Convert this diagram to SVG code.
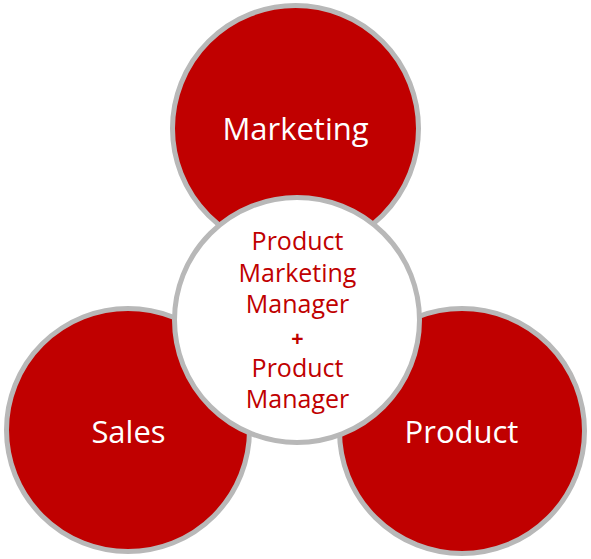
<svg xmlns="http://www.w3.org/2000/svg" width="591" height="559" viewBox="0 0 591 559">
<style>
.red{fill:#c00000;stroke:#b8b8b8;stroke-width:5}
.white{fill:#ffffff;stroke:#b8b8b8;stroke-width:5}
.lbl{font-family:"Open Sans","DejaVu Sans",sans-serif;font-size:31px;fill:#ffffff;text-anchor:middle}
.ctr{font-family:"Open Sans","DejaVu Sans",sans-serif;font-size:25px;fill:#c00000;text-anchor:middle}
.plus{font-family:"Liberation Sans",sans-serif;font-size:21px;font-weight:bold;fill:#c00000;text-anchor:middle}
</style>
<rect width="591" height="559" fill="#ffffff"/>
<g id="connectors"/>
<g id="marketing">
<circle class="red" cx="295.5" cy="128.5" r="123"/>
<text class="lbl" x="295.5" y="140">Marketing</text>
</g>
<g id="sales">
<circle class="red" cx="128" cy="430" r="121.5"/>
<text class="lbl" x="128.5" y="443">Sales</text>
</g>
<g id="product">
<circle class="red" cx="462" cy="431" r="122.5"/>
<text class="lbl" x="461.5" y="443">Product</text>
</g>
<g id="center">
<circle class="white" cx="297" cy="320" r="122.5"/>
<text class="ctr" x="297.5" y="250">Product</text>
<text class="ctr" x="297.5" y="282">Marketing</text>
<text class="ctr" x="297.5" y="313">Manager</text>
<text class="plus" x="297.5" y="345.5">+</text>
<text class="ctr" x="297.5" y="377">Product</text>
<text class="ctr" x="297.5" y="408">Manager</text>
</g>
</svg>
